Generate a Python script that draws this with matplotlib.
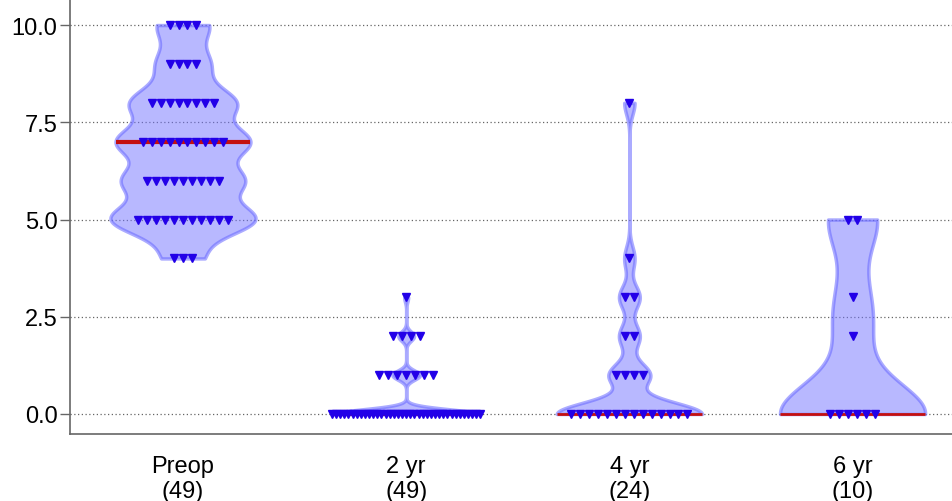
import matplotlib
matplotlib.use('Agg')
import matplotlib.pyplot as plt
import numpy as np

plt.rcParams['font.family'] = ['Liberation Sans', 'DejaVu Sans']

# categorias y conteo de pacientes por puntuacion
grupos = ['Preop', '2 yr', '4 yr', '6 yr']

preop_valores = [4, 5, 6, 7, 8, 9, 10]
preop_conteo = [3, 11, 9, 10, 8, 4, 4]

yr2_valores = [0, 1, 2, 3]
yr2_conteo = [37, 7, 4, 1]

yr4_valores = [0, 1, 2, 3, 4, 8]
yr4_conteo = [14, 4, 2, 2, 1, 1]

yr6_valores = [0, 2, 3, 5]
yr6_conteo = [6, 1, 1, 2]

# ancho de banda del kde de cada violin
anchos_banda = [0.4, 0.12, 0.3, 0.8]

datos = [
    (preop_valores, preop_conteo),
    (yr2_valores, yr2_conteo),
    (yr4_valores, yr4_conteo),
    (yr6_valores, yr6_conteo),
]


def kde(muestra, y, bw):
    d = (y[:, None] - muestra[None, :]) / bw
    return np.exp(-0.5 * d ** 2).sum(axis=1)


fig = plt.figure(figsize=(9.53, 5.02), dpi=100)
ax = fig.add_axes([0.0735, 0.1335, 0.9265, 0.8665])

ancho_max = 0.325
for i, ((vals, cuentas), bw) in enumerate(zip(datos, anchos_banda)):
    muestra = np.repeat(vals, cuentas).astype(float)
    y = np.linspace(muestra.min(), muestra.max(), 400)
    dens = kde(muestra, y, bw)
    escala = ancho_max / dens.max()
    w = dens * escala
    ax.fill_betweenx(y, i - w, i + w, facecolor=(0.45, 0.45, 1.0, 0.5),
                     edgecolor=(0.4, 0.4, 1.0, 0.55), linewidth=2.5, zorder=2)

    mediana = np.median(muestra)
    wm = kde(muestra, np.array([mediana]), bw)[0] * escala
    lw_med = 3 if mediana > 0 else 2
    ax.plot([i - wm, i + wm], [mediana, mediana], color='#c41010', lw=lw_med,
            solid_capstyle='butt', zorder=3)

    for v, n in zip(vals, cuentas):
        paso = 0.04 if n == 1 else min(0.04, 0.665 / (n - 1))
        xs = i + (np.arange(n) - (n - 1) / 2) * paso
        ax.plot(xs, [v] * n, linestyle='none', marker='v', markersize=6,
                color='#2200e8', zorder=4)

ax.set_xlim(-0.506, 3.45)
ax.set_ylim(-0.514, 10.67)
ax.set_yticks([0, 2.5, 5, 7.5, 10])
ax.set_yticklabels(['0.0', '2.5', '5.0', '7.5', '10.0'], fontsize=17)
ax.set_xticks(range(4))
ax.set_xticklabels([f'{g}\n({sum(c)})' for g, (v, c) in zip(grupos, datos)],
                   fontsize=17, linespacing=1.2)
ax.tick_params(axis='x', length=0, pad=15)
ax.tick_params(axis='y', length=7, width=1, color='#666666', pad=2)
ax.grid(axis='y', linestyle=(0, (1, 2)), color='#666666', linewidth=0.9, zorder=0)
ax.set_axisbelow(True)
for s in ['top', 'right']:
    ax.spines[s].set_visible(False)
for s in ['left', 'bottom']:
    ax.spines[s].set_color('#666666')
    ax.spines[s].set_linewidth(1.2)

fig.savefig('out.png', dpi=100)
